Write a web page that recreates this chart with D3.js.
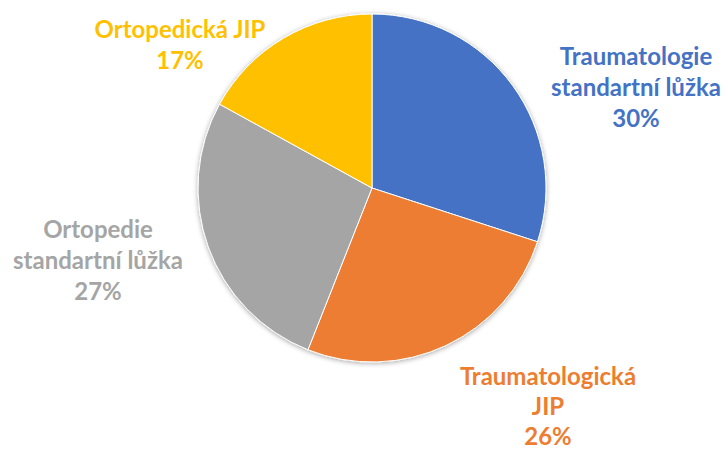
<!DOCTYPE html>
<html>
<head>
<meta charset="utf-8">
<script src="https://cdn.jsdelivr.net/npm/d3@7"></script>
<style>
  body { margin: 0; background: #fff; }
  text { font-family: Lato, "Open Sans", sans-serif; font-weight: bold; }
</style>
</head>
<body>
<div class="container"></div>
<script>
const categories = ['Traumatologie standartní lůžka', 'Traumatologická JIP', 'Ortopedie standartní lůžka', 'Ortopedická JIP'];
const values = [30, 26, 27, 17];
const labelLines = [
  ['Traumatologie', 'standartní lůžka', '30%'],
  ['Traumatologická', 'JIP', '26%'],
  ['Ortopedie', 'standartní lůžka', '27%'],
  ['Ortopedická JIP', '17%']
];
const colors = ['#4472C4', '#ED7D31', '#A5A5A5', '#FFC000'];

const renderPie = () => {
  const width = 728;
  const height = 450;
  const cx = 372;
  const cy = 188;
  const radius = 174;

  // label block anchor (x centre, first baseline) and line step
  const labelPos = [[636, 65, 31], [548, 385, 30], [98, 238, 31], [180, 38, 31]];

  const svg = d3.select('.container')
    .append('svg')
    .attr('width', width)
    .attr('height', height);

  const defs = svg.append('defs');
  const filter = defs.append('filter').attr('id', 'shadow')
    .attr('x', '-10%').attr('y', '-10%').attr('width', '120%').attr('height', '120%');
  filter.append('feDropShadow')
    .attr('dx', 0).attr('dy', 1).attr('stdDeviation', 2.5)
    .attr('flood-color', '#000').attr('flood-opacity', 0.35);

  const pie = d3.pie().sort(null).value(d => d);
  const arc = d3.arc().innerRadius(0).outerRadius(radius);

  const g = svg.append('g')
    .attr('transform', `translate(${cx},${cy})`)
    .attr('filter', 'url(#shadow)');

  g.selectAll('path')
    .data(pie(values))
    .enter()
    .append('path')
    .attr('d', arc)
    .attr('fill', (d, i) => colors[i])
    .attr('stroke', '#fff')
    .attr('stroke-width', 1);

  const labels = svg.selectAll('text.label')
    .data(labelLines)
    .enter()
    .append('text')
    .attr('class', 'label')
    .attr('text-anchor', 'middle')
    .attr('font-size', 24)
    .attr('fill', (d, i) => colors[i]);

  labels.each(function (lines, i) {
    const [x, y, step] = labelPos[i];
    d3.select(this).selectAll('tspan')
      .data(lines)
      .enter()
      .append('tspan')
      .attr('x', x)
      .attr('y', (l, j) => y + j * step)
      .text(l => l);
  });
};

renderPie();
</script>
</body>
</html>
